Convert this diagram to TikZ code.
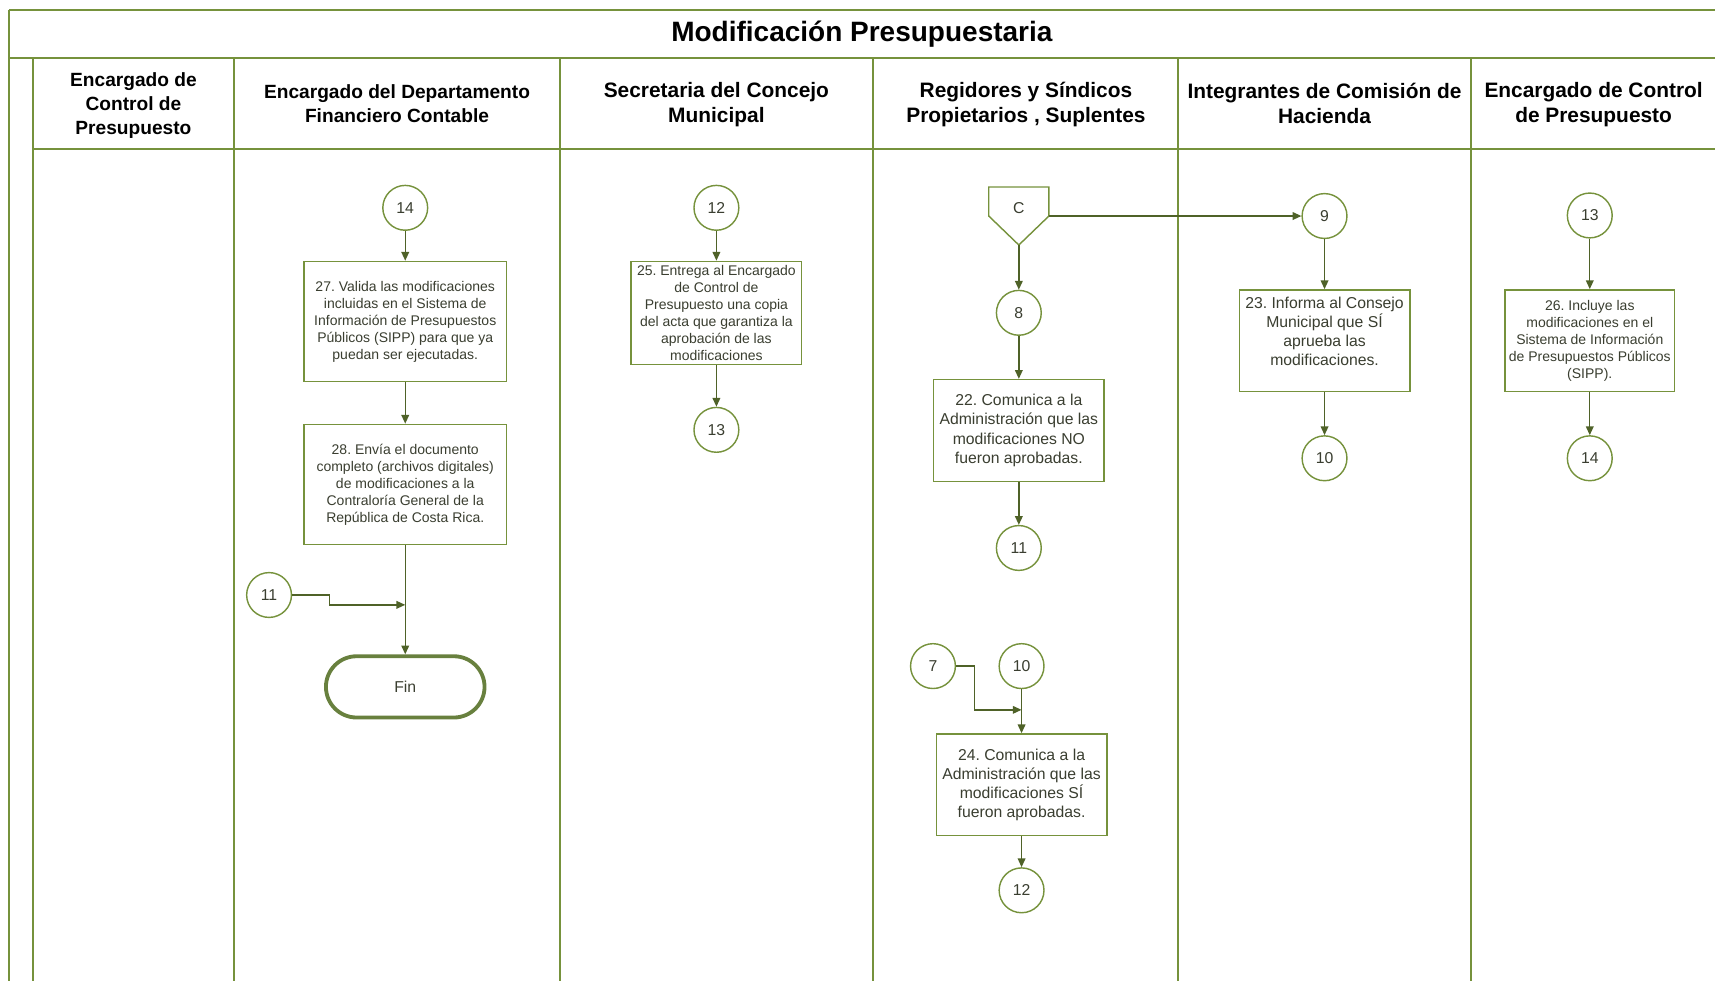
\documentclass[tikz,border=0pt]{standalone}
\usepackage{fontspec}
\setmainfont{Liberation Sans}
\usetikzlibrary{arrows.meta}
\frenchspacing

\definecolor{frameclr}{RGB}{118,146,60}
\definecolor{lineclr}{RGB}{79,98,40}
\definecolor{boxtxt}{RGB}{58,62,48}
\definecolor{finclr}{RGB}{104,128,62}

\begin{document}
\begin{tikzpicture}[x=1pt,y=-1pt,
  lane/.style={draw=frameclr,line width=2pt},
  hdr/.style={font=\bfseries\fontsize{17.5}{22}\selectfont,align=center,text=black},
  hdrbig/.style={font=\bfseries\fontsize{19.1}{23}\selectfont,align=center,text=black},
  stepbox/.style={draw=frameclr,line width=1.3pt,fill=white,inner sep=0pt,align=center,text=boxtxt},
  txtsm/.style={font=\fontsize{12.8}{15.5}\selectfont},
  txtlg/.style={font=\fontsize{14.4}{17.5}\selectfont},
  conn/.style={circle,draw=frameclr,line width=1.3pt,fill=white,minimum size=41pt,inner sep=0pt,text=boxtxt,font=\fontsize{14.4}{17}\selectfont},
  arr/.style={draw=lineclr,line width=1.3pt,-{Triangle[length=8pt,width=7pt]}},
]
\useasboundingbox (0,0) rectangle (1568,897);
\clip (0,0) rectangle (1568,897);

% swimlane frame
\draw[lane] (8,9) -- (1568,9);
\draw[lane] (8,9) -- (8,897);
\draw[lane] (8,53) -- (1568,53);
\draw[lane] (30,53) -- (30,897);
\draw[lane] (30,136) -- (1568,136);
\foreach \x in {214,512,798,1077,1345} \draw[lane] (\x,53) -- (\x,897);

% title and lane headers
\node[font=\bfseries\fontsize{25.6}{30}\selectfont] (title) at (788,31) {Modificación Presupuestaria};
\node[hdr] (h1) at (122,96.5) {Encargado de\\Control de\\Presupuesto};
\node[hdr] (h2) at (363,95) {Encargado del Departamento\\Financiero Contable};
\node[hdrbig] (h3) at (655,96) {Secretaria del Concejo\\Municipal};
\node[hdrbig] (h4) at (938,95.5) {Regidores y Síndicos\\Propietarios , Suplentes};
\node[hdrbig] (h5) at (1211,94.5) {Integrantes de Comisión de\\Hacienda};
\node[hdrbig] (h6) at (1457,95.5) {Encargado de Control\\de Presupuesto};

% Encargado del Departamento Financiero Contable
\node[conn] (c14a) at (370.5,190) {14};
\node[stepbox,txtsm,minimum width=185pt,minimum height=110pt] (b27) at (370.5,294)
  {27. Valida las modificaciones\\incluidas en el Sistema de\\Información de Presupuestos\\Públicos (SIPP) para que ya\\puedan ser ejecutadas.};
\node[stepbox,txtsm,minimum width=185pt,minimum height=110pt] (b28) at (370.5,443)
  {28. Envía el documento\\completo (archivos digitales)\\de modificaciones a la\\Contraloría General de la\\República de Costa Rica.};
\node[conn] (c11a) at (246,544) {11};
\node[draw=finclr,line width=3.5pt,fill=white,rounded corners=28pt,minimum width=145pt,minimum height=56pt,inner sep=0pt,text=boxtxt,font=\fontsize{14.4}{17}\selectfont] (fin) at (370.5,628) {Fin};
\coordinate (j1) at (370.5,553);

% Secretaria del Concejo Municipal
\node[conn] (c12a) at (655,190) {12};
\node[stepbox,txtsm,minimum width=156pt,minimum height=94pt] (b25) at (655,286)
  {25. Entrega al Encargado\\de Control de\\Presupuesto una copia\\del acta que garantiza la\\aprobación de las\\modificaciones};
\node[conn] (c13a) at (655,393) {13};

% Regidores y Sindicos
\draw[draw=frameclr,line width=1.3pt,fill=white] (904,171) -- (959,171) -- (959,197.5) -- (931.5,224) -- (904,197.5) -- cycle;
\node[text=boxtxt,font=\fontsize{14.4}{17}\selectfont] (cC) at (931.5,190) {C};
\coordinate (cCtip) at (931.5,224);
\coordinate (cCright) at (959,197.5);
\node[conn] (c8) at (931.5,286) {8};
\node[stepbox,txtlg,minimum width=156pt,minimum height=93pt] (b22) at (931.5,393.5)
  {22. Comunica a la\\Administración que las\\modificaciones NO\\fueron aprobadas.};
\node[conn] (c11b) at (931.5,501) {11};
\node[conn] (c7) at (853,609) {7};
\node[conn] (c10b) at (934,609) {10};
\coordinate (j2) at (934,649);
\node[stepbox,txtlg,minimum width=156pt,minimum height=93pt] (b24) at (934,717.5)
  {24. Comunica a la\\Administración que las\\modificaciones SÍ\\fueron aprobadas.};
\node[conn] (c12b) at (934,814) {12};

% Integrantes de Comision de Hacienda
\node[conn] (c9) at (1211,197.5) {9};
\node[stepbox,txtlg,minimum width=156pt,minimum height=93pt] (b23) at (1211,311.5)
  {23. Informa al Consejo\\Municipal que SÍ\\aprueba las\\modificaciones.\\ \mbox{}};
\node[conn] (c10a) at (1211,419) {10};

% Encargado de Control de Presupuesto
\node[conn] (c13b) at (1453.5,197) {13};
\node[stepbox,txtsm,minimum width=155pt,minimum height=93pt] (b26) at (1453.5,311.5)
  {26. Incluye las\\modificaciones en el\\Sistema de Información\\de Presupuestos Públicos\\(SIPP).};
\node[conn] (c14b) at (1453.5,419) {14};

% connectors
\draw[arr] (c14a) -- (b27);
\draw[arr] (b27) -- (b28);
\draw[arr] (b28) -- (fin);
\draw[arr] (c11a.east) -- ++(34,0) |- (j1);
\draw[arr] (c12a) -- (b25);
\draw[arr] (b25) -- (c13a);
\draw[arr] (cCtip) -- (c8);
\draw[arr] (cCright) -- (c9);
\draw[arr] (c8) -- (b22);
\draw[arr] (b22) -- (c11b);
\draw[arr] (c7.east) -- ++(17,0) |- (j2);
\draw[arr] (c10b) -- (b24);
\draw[arr] (b24) -- (c12b);
\draw[arr] (c9) -- (b23);
\draw[arr] (b23) -- (c10a);
\draw[arr] (c13b) -- (b26);
\draw[arr] (b26) -- (c14b);
\end{tikzpicture}
\end{document}
